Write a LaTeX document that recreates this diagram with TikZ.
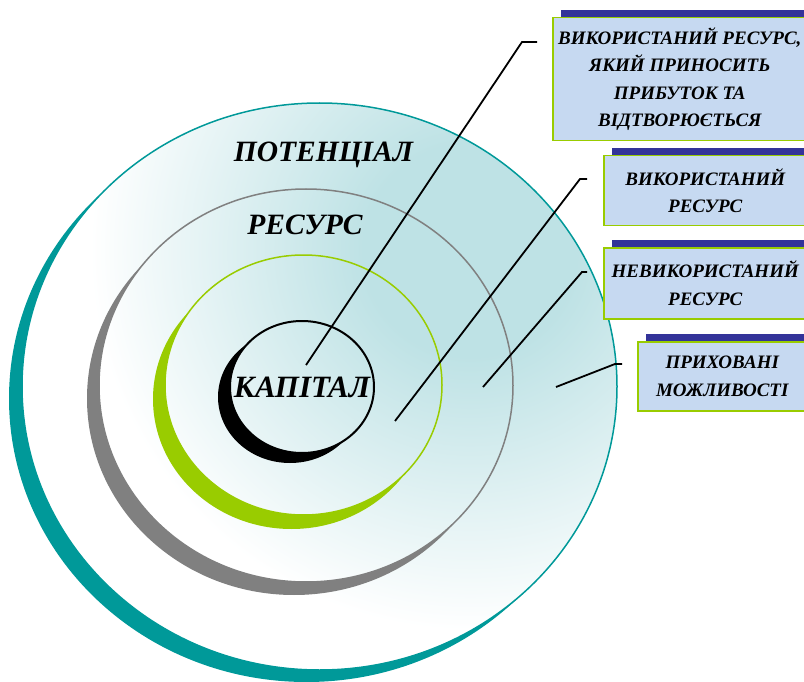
\documentclass[tikz,border=0pt]{standalone}
\usepackage{fontspec}
\setmainfont{Liberation Serif}
\usetikzlibrary{shadows}
\definecolor{ringteal}{RGB}{0,153,153}
\definecolor{ringgray}{RGB}{128,128,128}
\definecolor{ringgreen}{RGB}{153,204,0}
\definecolor{glow}{RGB}{190,226,229}
\definecolor{boxfill}{RGB}{198,217,241}
\definecolor{boxline}{RGB}{153,204,0}
\definecolor{barblue}{RGB}{51,51,153}
\pgfdeclareradialshading{glowshade}{\pgfpoint{0bp}{0bp}}{color(0bp)=(glow); color(7bp)=(glow); color(25bp)=(white); color(50bp)=(white)}
\newcommand{\glowpaint}{\fill[white] (0,0) rectangle (804,682); \shade[shading=glowshade] (470,250) circle (380pt);}
\begin{document}
\begin{tikzpicture}[x=1pt,y=-1pt,
  infobox/.style={draw=boxline, line width=1.5pt, fill=boxfill, anchor=north west, inner sep=0pt,
    align=center, font=\fontsize{19}{27.5}\selectfont\bfseries\itshape,
    general shadow={fill=barblue, shadow xshift=8pt, shadow yshift=8pt}},
  bigtext/.style={anchor=base, inner sep=0pt, font=\fontsize{29.5}{31}\selectfont\bfseries\itshape},
  leader/.style={draw=black, line width=1.8pt, line join=miter}]
\useasboundingbox (0,0) rectangle (804,682);
% teal ring
\fill[ringteal] (306.5,398.5) ellipse [x radius=297.5pt, y radius=283.5pt];
\begin{scope}
  \clip (319.5,386.5) ellipse [x radius=297.5pt, y radius=283.5pt];
  \glowpaint
\end{scope}
% gray ring
\fill[ringgray] (294,398.5) ellipse [x radius=207pt, y radius=196.5pt];
\begin{scope}
  \clip (306,385.5) ellipse [x radius=207pt, y radius=196.5pt];
  \glowpaint
\end{scope}
% green ring
\fill[ringgreen] (291.5,399) ellipse [x radius=138.5pt, y radius=130pt];
\begin{scope}
  \clip (303.5,385) ellipse [x radius=138.5pt, y radius=130pt];
  \glowpaint
\end{scope}
% black ring
\fill[black] (290,397) ellipse [x radius=72pt, y radius=66pt];
\begin{scope}
  \clip (302,387) ellipse [x radius=72pt, y radius=66pt];
  \glowpaint
\end{scope}
% outlines
\draw[ringteal, line width=1.5pt] (319.5,386.5) ellipse [x radius=297.5pt, y radius=283.5pt];
\draw[ringgray, line width=1.5pt] (306,385.5) ellipse [x radius=207pt, y radius=196.5pt];
\draw[ringgreen, line width=1.5pt] (303.5,385) ellipse [x radius=138.5pt, y radius=130pt];
\draw[black, line width=2pt] (302,387) ellipse [x radius=72pt, y radius=66pt];
% big labels
\node[bigtext] (pot) at (323.5,162) {ПОТЕНЦІАЛ};
\node[bigtext] (res) at (305,235) {РЕСУРС};
\node[bigtext, font=\fontsize{31}{32}\selectfont\bfseries\itshape] (kap) at (302,397) {КАПІТАЛ};
% boxes
\node[infobox, minimum width=254pt, minimum height=123pt] (b1) at (552,17) {ВИКОРИСТАНИЙ РЕСУРС,\\ЯКИЙ ПРИНОСИТЬ\\ПРИБУТОК ТА\\ВІДТВОРЮЄТЬСЯ};
\node[infobox, minimum width=203pt, minimum height=70pt] (b2) at (603,155) {ВИКОРИСТАНИЙ\\РЕСУРС};
\node[infobox, minimum width=203pt, minimum height=71pt] (b3) at (603,247) {НЕВИКОРИСТАНИЙ\\РЕСУРС};
\node[infobox, minimum width=169pt, minimum height=69pt] (b4) at (637,341) {ПРИХОВАНІ\\МОЖЛИВОСТІ};
% leader lines
\coordinate (a1) at (306,365); \coordinate (k1) at (522,42); \coordinate (e1) at (537,42);
\coordinate (a2) at (395,421); \coordinate (k2) at (580,179); \coordinate (e2) at (587,179);
\coordinate (a3) at (483,387); \coordinate (k3) at (582,272); \coordinate (e3) at (587,272);
\coordinate (a4) at (556,387); \coordinate (k4) at (615,364); \coordinate (e4) at (622,364);
\draw[leader] (a1) -- (k1) -- (e1);
\draw[leader] (a2) -- (k2) -- (e2);
\draw[leader] (a3) -- (k3) -- (e3);
\draw[leader] (a4) -- (k4) -- (e4);
\end{tikzpicture}
\end{document}
